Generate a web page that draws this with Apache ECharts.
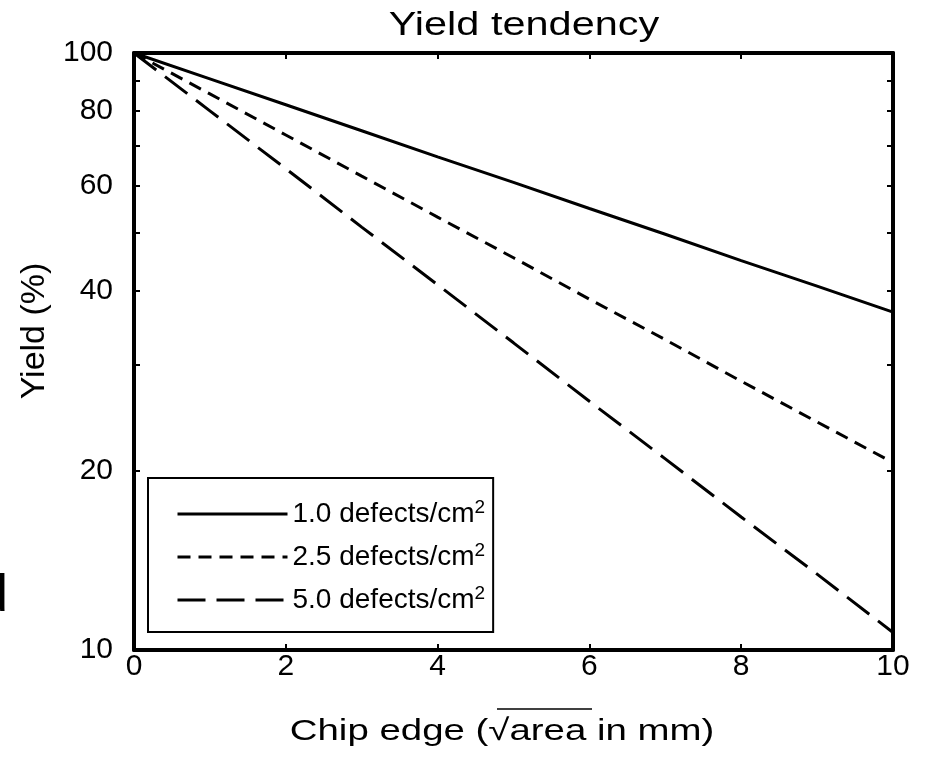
<!DOCTYPE html>
<html>
<head>
<meta charset="utf-8">
<script src="https://cdn.jsdelivr.net/npm/echarts@6/dist/echarts.min.js"></script>
<style>
html,body{margin:0;padding:0;background:#fff;}
#chart{width:926px;height:758px;}
</style>
</head>
<body>
<div id="chart"></div>
<script>
// ---- data ----
const chipEdge = [0, 1, 2, 3, 4, 5, 6, 7, 8, 9, 10];
const yieldD10 = [100, 90.5, 81.9, 74.1, 67.0, 60.7, 54.9, 49.7, 44.9, 40.7, 36.8];
const yieldD25 = [100, 85.4, 72.9, 62.2, 53.1, 45.4, 38.7, 33.1, 28.2, 24.1, 20.6];
const yieldD50 = [100, 80.0, 64.0, 51.1, 40.9, 32.7, 26.1, 20.9, 16.7, 13.4, 10.7];
const seriesNames = ['1.0 defects/cm2', '2.5 defects/cm2', '5.0 defects/cm2'];
const yLabelValues = [10, 20, 40, 60, 80, 100];
const yTickValues = [10, 20, 30, 40, 50, 60, 70, 80, 90, 100];
const xTickValues = [0, 2, 4, 6, 8, 10];

const FONT = '"Liberation Sans", Arial, sans-serif';
const chart = echarts.init(document.getElementById('chart'), null, {renderer: 'canvas'});

function pairs(vals) { return chipEdge.map((x, i) => [x, vals[i]]); }

const frameLine = {show: true, onZero: false, lineStyle: {color: '#000', width: 4}};
const tickStyle = {color: '#000', width: 2};

function xAxisDef(pos, showLabel) {
  return {
    type: 'value', position: pos, min: 0, max: 10, interval: 2,
    axisLine: frameLine,
    axisTick: {show: true, inside: true, length: 6, lineStyle: tickStyle},
    axisLabel: {show: showLabel, customValues: xTickValues, color: '#000', fontSize: 30, fontFamily: FONT, margin: 2},
    splitLine: {show: false}
  };
}
function yAxisDef(pos, showLabel) {
  return {
    type: 'log', logBase: 10, position: pos, min: 10, max: 100,
    axisLine: frameLine,
    axisTick: {show: true, inside: true, length: 6, lineStyle: tickStyle, customValues: yTickValues},
    axisLabel: {show: showLabel, customValues: yLabelValues, color: '#000', fontSize: 30, fontFamily: FONT, margin: 21},
    minorTick: {show: false},
    splitLine: {show: false}
  };
}

const dashTypes = ['solid', [13, 8], [28, 11]];
const series = [yieldD10, yieldD25, yieldD50].map((vals, i) => ({
  name: seriesNames[i],
  type: 'line',
  data: pairs(vals),
  symbol: 'none',
  lineStyle: {color: '#000', width: 3, type: dashTypes[i]},
  itemStyle: {color: '#000'},
  xAxisIndex: 0, yAxisIndex: 0,
  z: 3
}));

const option = {
  animation: false,
  backgroundColor: '#fff',
  grid: {left: 134, top: 53, right: 33, bottom: 108, containLabel: false},
  xAxis: [xAxisDef('bottom', true), xAxisDef('top', false)],
  yAxis: [yAxisDef('left', true), yAxisDef('right', false)],
  legend: {
    orient: 'vertical',
    left: 148, top: 478,
    padding: [20, 8, 18, 28],
    itemWidth: 110, itemHeight: 26, itemGap: 13,
    borderColor: '#000', borderWidth: 2, borderRadius: 0,
    backgroundColor: '#fff',
    itemStyle: {color: 'rgba(0,0,0,0)', borderWidth: 0, opacity: 0},
    lineStyle: {width: 3},
    data: seriesNames,
    formatter: function (n) { return '{a|' + n.slice(0, -1) + '}{s|' + n.slice(-1) + '}'; },
    textStyle: {
      color: '#000', fontFamily: FONT, fontSize: 28,
      rich: {
        a: {fontSize: 28, fontFamily: FONT, color: '#000', lineHeight: 28},
        s: {fontSize: 19, fontFamily: FONT, color: '#000', verticalAlign: 'bottom', padding: [0, 0, 13, 0]}
      }
    }
  },
  graphic: [
    {type: 'text', x: 524, y: 26, scaleX: 1.257, z: 10,
     style: {text: 'Yield tendency', font: '33px "Liberation Sans", Arial, sans-serif', fill: '#000', align: 'center', verticalAlign: 'middle'}},
    {type: 'text', x: 35, y: 331, rotation: Math.PI / 2, z: 10,
     style: {text: 'Yield (%)', font: '34px "Liberation Sans", Arial, sans-serif', fill: '#000', align: 'center', verticalAlign: 'middle'}},
    {type: 'text', x: 502, y: 732, scaleX: 1.28, z: 10,
     style: {text: 'Chip edge (\u221Aarea in mm)', font: '30px "Liberation Sans", Arial, sans-serif', fill: '#000', align: 'center', verticalAlign: 'middle'}},
    {type: 'line', z: 10, shape: {x1: 497, y1: 709, x2: 592, y2: 709}, style: {stroke: '#000', lineWidth: 1.5}},
    {type: 'text', x: 8, y: 623, z: 10,
     style: {text: 'd', font: '52px "Liberation Sans", Arial, sans-serif', fill: '#000', align: 'right', verticalAlign: 'bottom'}}
  ],
  series: series
};
chart.setOption(option);
</script>
</body>
</html>
